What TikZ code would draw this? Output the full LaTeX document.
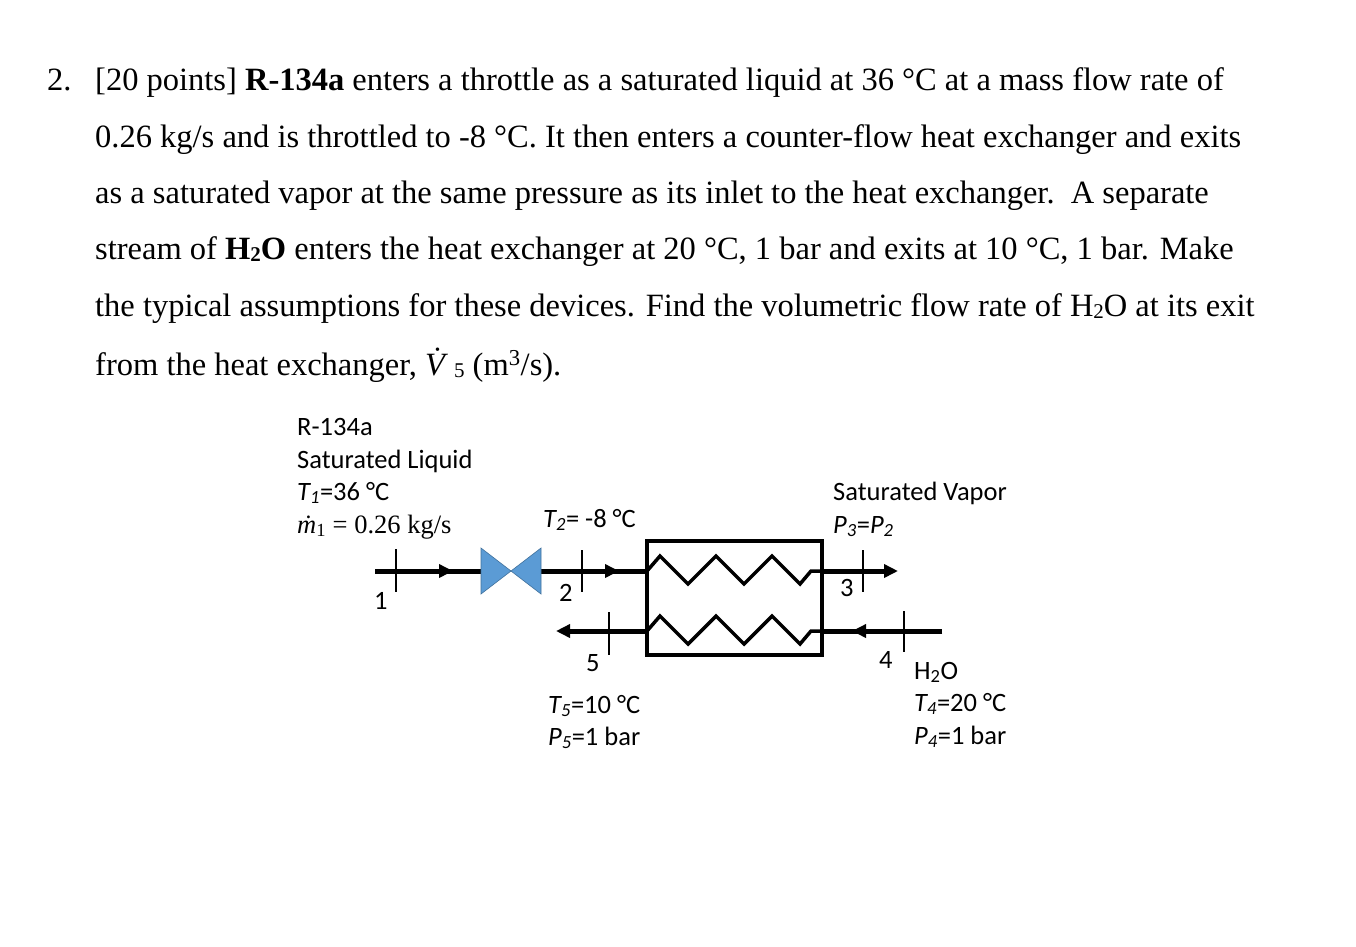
\documentclass[tikz,border=0pt]{standalone}
\usetikzlibrary{arrows.meta}
\usepackage{fontspec}
\setmainfont{Liberation Serif}
\newfontfamily\dfont{Carlito}
\newfontfamily\sfont{Liberation Serif}
\begin{document}
\begin{tikzpicture}[x=1pt,y=-1pt,
 para/.style={anchor=base west,inner sep=0,font=\fontsize{32.5}{38}\selectfont},
 lab/.style={anchor=base west,inner sep=0,font=\dfont\fontsize{26.5}{30}\selectfont},
 pipe/.style={line width=5pt},
 tick/.style={line width=1.8pt},
 arr/.style={-{Triangle[length=14pt,width=13pt]}}]
\useasboundingbox (0,0) rectangle (1356,946);
\node[para] (n2) at (47,90) {2.};
\node[para] (p1) at (95,90) {[20 points] \textbf{R-134a} enters a throttle as a saturated liquid at 36 °C at a mass flow rate of};
\node[para] (p2) at (95,147) {0.26 kg/s and is throttled to -8 °C. It then enters a counter-flow heat exchanger and exits};
\node[para] (p3) at (95,203) {as a saturated vapor at the same pressure as its inlet to the heat exchanger.\ \ A separate};
\node[para] (p4) at (95,259) {stream of \textbf{H\raisebox{-0.15ex}{\fontsize{21}{24}\selectfont 2}O} enters the heat exchanger at 20 °C, 1 bar and exits at 10 °C, 1 bar. Make};
\node[para] (p5) at (95,316) {the typical assumptions for these devices. Find the volumetric flow rate of H\raisebox{-0.15ex}{\fontsize{21}{24}\selectfont 2}O at its exit};
\node[para] (p6) at (95,375) {from the heat exchanger, \textit{\.{V}}\raisebox{-0.15ex}{\fontsize{21}{24}\selectfont 5} (m\textsuperscript{3}/s).};
% labels
\node[lab] (a1) at (297,435) {R-134a};
\node[lab] (a2) at (297,468) {Saturated Liquid};
\node[lab] (a3) at (297,500) {\textit{T\textsubscript{1}}=36 °C};
\node[lab] (a4) at (297,533) {{\sfont\textit{\.{m}}\textsubscript{1} = 0.26 kg/s}};
\node[lab] (b1) at (543,527) {\textit{T\textsubscript{2}}= -8 °C};
\node[lab] (c1) at (833,500) {Saturated Vapor};
\node[lab] (c2) at (833,533) {\textit{P\textsubscript{3}}=\textit{P\textsubscript{2}}};
\node[lab] (d1) at (914,679) {H\textsubscript{2}O};
\node[lab] (d2) at (914,711) {\textit{T\textsubscript{4}}=20 °C};
\node[lab] (d3) at (914,744) {\textit{P\textsubscript{4}}=1 bar};
\node[lab] (e1) at (548,713) {\textit{T\textsubscript{5}}=10 °C};
\node[lab] (e2) at (548,745) {\textit{P\textsubscript{5}}=1 bar};
\node[lab] (s1) at (374,609) {1};
\node[lab] (s2) at (559,601) {2};
\node[lab] (s3) at (840,596) {3};
\node[lab] (s4) at (879,668) {4};
\node[lab] (s5) at (586,671) {5};
% coordinates
\coordinate (in1) at (375,571);
\coordinate (vl) at (481,571);
\coordinate (vr) at (541,571);
\coordinate (hxl) at (647,571);
\coordinate (hxr) at (822,571);
\coordinate (out3) at (898,571);
\coordinate (in4) at (942,631);
\coordinate (hx4) at (822,631);
\coordinate (hx5) at (647,631);
\coordinate (out5) at (556,631);
% pipes
\draw[pipe] (in1) -- (vl);
\draw[pipe,arr] (in1) -- (453,571);
\draw[pipe] (vr) -- (hxl);
\draw[pipe,arr] (vr) -- (619,571);
\draw[pipe,arr] (hxr) -- (out3);
\draw[pipe] (in4) -- (hx4);
\draw[pipe,arr] (in4) -- (852,631);
\draw[pipe,arr] (hx5) -- (out5);
% valve
\fill[fill={rgb,255:red,91;green,155;blue,213},draw={rgb,255:red,65;green,113;blue,156},line width=0.6pt]
 (481,548) -- (511,571) -- (481,594) -- cycle (541,548) -- (511,571) -- (541,594) -- cycle;
% ticks
\draw[tick] (396,549) -- (396,592);
\draw[tick] (582,550) -- (582,592);
\draw[tick] (863,550) -- (863,592);
\draw[tick] (904,611) -- (904,652);
\draw[tick] (609,612) -- (609,655);
% box
\node[draw,line width=3.5pt,minimum width=175pt,minimum height=114pt,inner sep=0] (hx) at (734.5,598) {};
\draw[line width=3.5pt,line join=miter] (hxl) -- (660,556) -- (688,584) -- (716,556) -- (744,584) -- (772,556) -- (800,584) -- (811,571) -- (hxr);
\draw[line width=3.5pt,line join=miter] (hx5) -- (660,616) -- (688,644) -- (716,616) -- (744,644) -- (772,616) -- (800,644) -- (811,631) -- (hx4);
\end{tikzpicture}
\end{document}
